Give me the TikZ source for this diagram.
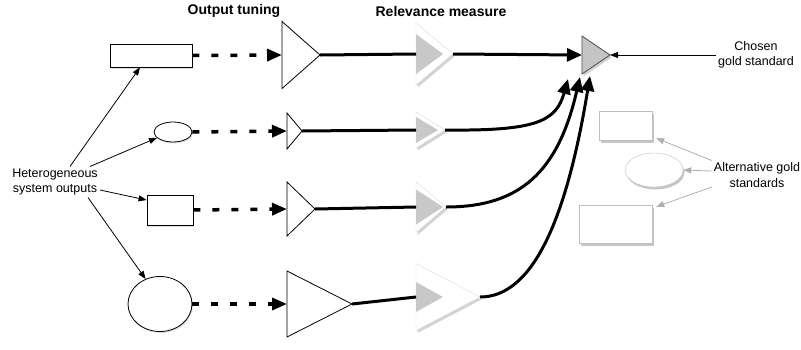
\documentclass[tikz,border=0pt]{standalone}
\usepackage{fontspec}
\setmainfont{Liberation Sans}
\usepackage{tikz}
\usetikzlibrary{arrows.meta,shapes.geometric,shadows}
\definecolor{relgray}{RGB}{200,200,200}
\definecolor{goldgray}{RGB}{196,196,196}
\definecolor{altline}{RGB}{175,175,175}
\tikzstyle{srcbox} = [rectangle, draw=black, fill=white, line width=0.8pt, inner sep=0pt, drop shadow={shadow xshift=1pt, shadow yshift=-1.5pt, opacity=0.25}]
\tikzstyle{srcoval} = [ellipse, draw=black, fill=white, line width=0.8pt, inner sep=0pt, drop shadow={shadow xshift=1pt, shadow yshift=-1.5pt, opacity=0.25}]
\tikzstyle{tunetri} = [isosceles triangle, isosceles triangle stretches, anchor=lower side, draw=black, fill=white, line width=0.8pt, inner sep=0pt, outer sep=0pt]
\tikzstyle{reltri} = [isosceles triangle, isosceles triangle stretches, anchor=lower side, draw=black!15, fill=white, inner sep=0pt, outer sep=0pt, drop shadow={shadow xshift=1.5pt, shadow yshift=-2.5pt, opacity=0.35}]
\tikzstyle{relcore} = [isosceles triangle, isosceles triangle stretches, anchor=lower side, fill=relgray, inner sep=0pt, outer sep=0pt]
\tikzstyle{goldtri} = [isosceles triangle, isosceles triangle stretches, anchor=lower side, draw=black!70, fill=goldgray, line width=0.8pt, inner sep=0pt, outer sep=0pt, drop shadow={shadow xshift=1.5pt, shadow yshift=-2.5pt, opacity=0.35}]
\tikzstyle{altbox} = [rectangle, draw=black!25, fill=white, inner sep=0pt, drop shadow={shadow xshift=1.5pt, shadow yshift=-2.5pt, opacity=0.45}]
\tikzstyle{altoval} = [ellipse, draw=black!25, fill=white, inner sep=0pt, drop shadow={shadow xshift=1.5pt, shadow yshift=-2.5pt, opacity=0.45}]
\tikzstyle{headtext} = [font=\fontsize{14}{17}\selectfont\bfseries]
\tikzstyle{labeltext} = [font=\fontsize{12.5}{15.5}\selectfont, align=center, inner sep=2pt]
\tikzstyle{dasharrow} = [line width=3.5pt, dash pattern=on 7pt off 12pt, -{Triangle[length=15pt,width=12pt]}]
\tikzstyle{thickline} = [line width=3pt]
\tikzstyle{thickarrow} = [line width=3pt, -{Triangle[length=15pt,width=13pt]}]
\tikzstyle{thinarrow} = [line width=0.8pt, -{Triangle[length=8pt,width=6pt]}]
\tikzstyle{altarrow} = [line width=0.8pt, color=altline, -{Triangle[length=8pt,width=6pt]}]

\begin{document}
\begin{tikzpicture}[x=1pt, y=-1pt]
\useasboundingbox (0,0) rectangle (801,349);
% Column headings
\node[headtext] (tunehead) at (234,11) {Output tuning};
\node[headtext] (relhead) at (441,11) {Relevance measure};

% System outputs
\node[srcbox, minimum width=82pt, minimum height=23pt] (src1) at (151,55.5) {};
\node[srcoval, minimum width=38pt, minimum height=20pt] (src2) at (173,132) {};
\node[srcbox, minimum width=46pt, minimum height=30pt] (src3) at (170,210) {};
\node[srcoval, minimum width=64pt, minimum height=55pt] (src4) at (160,304) {};

% Output tuning
\node[tunetri, minimum height=38pt, minimum width=67pt] (tune1) at (282,55) {};
\node[tunetri, minimum height=15pt, minimum width=36pt] (tune2) at (287,131) {};
\node[tunetri, minimum height=28pt, minimum width=54pt] (tune3) at (287,209) {};
\node[tunetri, minimum height=65pt, minimum width=66pt] (tune4) at (287,304) {};

% Relevance measure
\node[reltri, minimum height=37pt, minimum width=62pt] (rel1) at (416,54) {};
\node[relcore, minimum height=27pt, minimum width=40pt] (core1) at (rel1.lower side) {};
\node[reltri, minimum height=29pt, minimum width=36pt] (rel2) at (416,130) {};
\node[relcore, minimum height=22pt, minimum width=26pt] (core2) at (rel2.lower side) {};
\node[reltri, minimum height=30pt, minimum width=51pt] (rel3) at (416,207) {};
\node[relcore, minimum height=27pt, minimum width=35pt] (core3) at (rel3.lower side) {};
\node[reltri, minimum height=64pt, minimum width=67pt] (rel4) at (416,297) {};
\node[relcore, minimum height=27pt, minimum width=30pt] (core4) at (rel4.lower side) {};

% Gold standards
\node[goldtri, minimum height=28pt, minimum width=38pt] (gold) at (582,55) {};
\node[altbox, minimum width=53pt, minimum height=29pt] (altA) at (625.5,125.5) {};
\node[altoval, minimum width=58pt, minimum height=34pt] (altE) at (654,170) {};
\node[altbox, minimum width=73pt, minimum height=38pt] (altB) at (615.5,224) {};

% Labels
\node[labeltext] (hetero) at (55,182) {Heterogeneous\\system outputs};
\node[labeltext] (chosen) at (756,55) {Chosen\\gold standard};
\node[labeltext] (altlabel) at (757,175) {Alternative gold\\standards};

% Tuning and scoring
\draw[dasharrow] (src1.east) -- (tune1.lower side);
\draw[dasharrow] (src2.east) -- (tune2.lower side);
\draw[dasharrow] (src3.east) -- (tune3.lower side);
\draw[dasharrow] (src4.east) -- (tune4.lower side);
\draw[thickline] (tune1.apex) -- (rel1.lower side);
\draw[thickline] (tune2.apex) -- (rel2.lower side);
\draw[thickline] (tune3.apex) -- (rel3.lower side);
\draw[thickline] (tune4.apex) -- (rel4.lower side);

% Into the chosen gold standard
\coordinate (hit2) at (568,79);
\coordinate (hit3) at (580,77);
\coordinate (hit4) at (590,76);
\draw[thickarrow] (rel1.apex) -- (gold.lower side);
\draw[thickarrow] (rel2.apex) .. controls (535,131) and (556,122) .. (hit2);
\draw[thickarrow] (rel3.apex) .. controls (520,207) and (558,172) .. (hit3);
\draw[thickarrow] (rel4.apex) .. controls (532,297) and (566,222) .. (hit4);

% Label pointers
\draw[thinarrow] ([xshift=15pt]hetero.north) -- ([xshift=-11pt]src1.south);
\draw[thinarrow] ([xshift=35pt]hetero.north) -- (src2.200);
\draw[thinarrow] ([yshift=-8pt]hetero.east) -- ([yshift=10pt]src3.west);
\draw[thinarrow] ([xshift=33pt]hetero.south) -- (src4.120);
\draw[thinarrow] (chosen.west) -- (gold.apex);
\draw[altarrow] (altlabel.north west) -- ([xshift=4pt,yshift=2pt]altA.south east);
\draw[altarrow] ([yshift=4pt]altlabel.west) -- (altE.east);
\draw[altarrow] ([yshift=-12pt]altlabel.west) -- ([xshift=4pt,yshift=-2pt]altB.north east);
\end{tikzpicture}
\end{document}
